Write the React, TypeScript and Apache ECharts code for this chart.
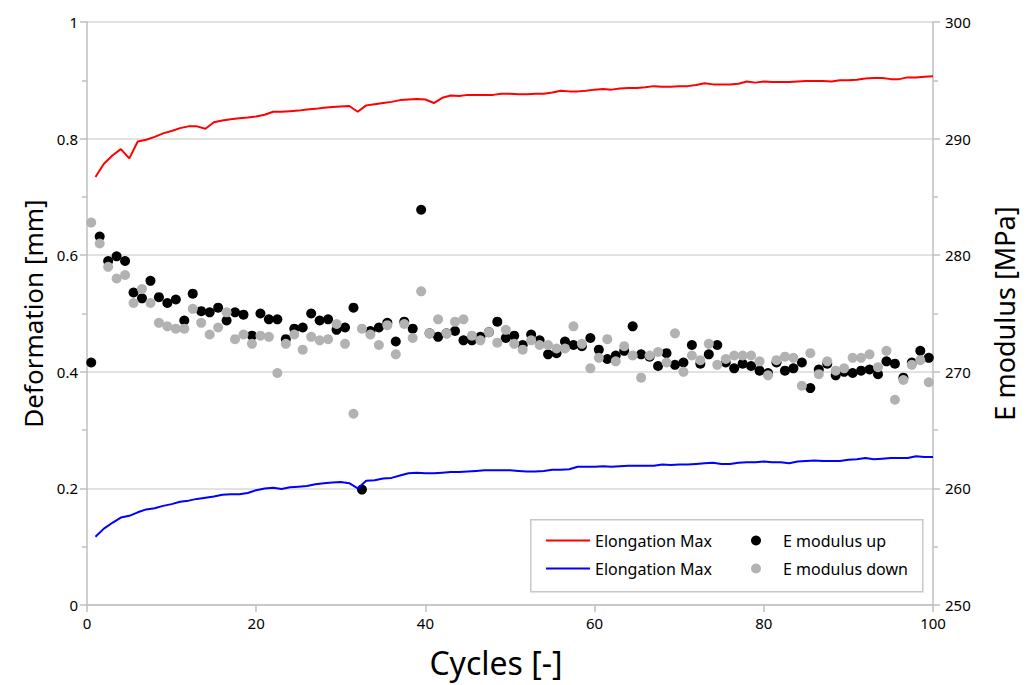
import React, { useEffect, useRef } from "react";
import * as echarts from "echarts";

const cycles: number[] = Array.from({ length: 100 }, (_, k) => k + 1);

const elongationRed: number[] = [
  0.734, 0.757, 0.771, 0.782, 0.766, 0.795, 0.798, 0.803, 0.809, 0.813,
  0.818, 0.821, 0.821, 0.817, 0.828, 0.831, 0.833, 0.835, 0.836, 0.838,
  0.841, 0.846, 0.846, 0.847, 0.848, 0.850, 0.851, 0.853, 0.854, 0.855,
  0.856, 0.846, 0.857, 0.859, 0.861, 0.863, 0.866, 0.867, 0.868, 0.867,
  0.861, 0.870, 0.874, 0.873, 0.875, 0.875, 0.875, 0.875, 0.877, 0.877,
  0.876, 0.876, 0.877, 0.877, 0.879, 0.882, 0.881, 0.881, 0.882, 0.884,
  0.885, 0.884, 0.886, 0.887, 0.887, 0.888, 0.890, 0.889, 0.889, 0.890,
  0.890, 0.892, 0.895, 0.893, 0.893, 0.893, 0.894, 0.898, 0.896, 0.898,
  0.897, 0.897, 0.897, 0.898, 0.899, 0.899, 0.899, 0.898, 0.900, 0.900,
  0.901, 0.903, 0.904, 0.904, 0.902, 0.902, 0.905, 0.905, 0.906, 0.907,
];

const elongationBlue: number[] = [
  0.117, 0.131, 0.141, 0.150, 0.153, 0.159, 0.164, 0.166, 0.170, 0.173,
  0.177, 0.179, 0.182, 0.184, 0.186, 0.189, 0.190, 0.190, 0.192, 0.197,
  0.200, 0.201, 0.199, 0.202, 0.203, 0.204, 0.207, 0.209, 0.210, 0.211,
  0.209, 0.200, 0.213, 0.214, 0.217, 0.218, 0.222, 0.226, 0.227, 0.226,
  0.226, 0.227, 0.228, 0.228, 0.229, 0.230, 0.231, 0.231, 0.231, 0.231,
  0.230, 0.229, 0.229, 0.230, 0.232, 0.232, 0.233, 0.237, 0.237, 0.237,
  0.238, 0.237, 0.238, 0.239, 0.239, 0.239, 0.239, 0.241, 0.240, 0.241,
  0.241, 0.242, 0.243, 0.244, 0.242, 0.242, 0.244, 0.245, 0.245, 0.246,
  0.245, 0.245, 0.243, 0.246, 0.247, 0.248, 0.247, 0.247, 0.247, 0.249,
  0.250, 0.252, 0.250, 0.251, 0.252, 0.252, 0.252, 0.255, 0.254, 0.254,
];

const eModulusUp: number[] = [
  270.8, 281.6, 279.5, 279.9, 279.5, 276.8, 276.3, 277.8, 276.4, 275.9,
  276.2, 274.4, 276.7, 275.2, 275.1, 275.5, 274.4, 275.1, 274.9, 273.1,
  275.0, 274.5, 274.5, 272.8, 273.7, 273.8, 275.0, 274.4, 274.5, 273.6,
  273.8, 275.5, 259.9, 273.5, 273.8, 274.2, 272.6, 274.3, 273.7, 283.9,
  273.3, 273.0, 273.3, 273.5, 272.7, 272.7, 273.0, 273.4, 274.3, 272.9,
  273.1, 272.3, 273.2, 272.7, 271.5, 271.6, 272.6, 272.3, 272.2, 272.9,
  271.9, 271.1, 271.4, 271.8, 273.9, 271.5, 271.3, 270.5, 271.6, 270.6,
  270.8, 272.3, 270.7, 271.5, 272.3, 270.8, 270.3, 270.7, 270.5, 270.1,
  269.9, 270.8, 270.1, 270.3, 270.8, 268.6, 270.2, 270.7, 269.7, 270.0,
  269.9, 270.1, 270.2, 269.8, 270.9, 270.7, 269.5, 270.8, 271.8, 271.2,
];

const eModulusDown: number[] = [
  282.8, 281.0, 279.0, 278.0, 278.3, 275.9, 277.1, 275.9, 274.2, 273.9,
  273.7, 273.7, 275.4, 274.2, 273.2, 273.8, 275.1, 272.8, 273.2, 272.4,
  273.1, 273.0, 269.9, 272.4, 273.2, 271.9, 273.0, 272.7, 272.8, 274.1,
  272.4, 266.4, 273.7, 273.2, 272.3, 274.0, 271.5, 274.1, 272.9, 276.9,
  273.3, 274.5, 273.3, 274.3, 274.5, 273.1, 272.7, 273.4, 272.5, 273.6,
  272.4, 271.9, 272.7, 272.3, 272.3, 272.0, 272.0, 273.9, 272.4, 270.3,
  271.2, 272.8, 270.9, 272.2, 271.4, 269.5, 271.4, 271.7, 270.8, 273.3,
  270.0, 271.4, 271.0, 272.4, 270.6, 271.1, 271.4, 271.4, 271.4, 270.9,
  269.7, 271.0, 271.3, 271.2, 268.8, 271.6, 269.8, 270.9, 270.1, 270.3,
  271.2, 271.2, 271.5, 270.4, 271.8, 267.6, 269.3, 270.6, 271.0, 269.1,
];

const xAxisName = "Cycles [-]";
const leftAxisName = "Deformation [mm]";
const rightAxisName = "E modulus [MPa]";
const seriesNames = ["Elongation Max", "Elongation Max ", "E modulus up", "E modulus down"];

const FONT = "'Noto Sans', sans-serif";
const AXIS_COLOR = "#bfbfbf";

export default function App() {
  const ref = useRef<HTMLDivElement>(null);

  useEffect(() => {
    if (!ref.current) return;
    const chart = echarts.init(ref.current, undefined, { renderer: "svg" });

    const lineData = (vals: number[]) => cycles.map((c, k) => [c, vals[k]]);
    const dotData = (vals: number[]) => cycles.map((c, k) => [c - 0.5, vals[k]]);

    const tickLabel = { color: "#000", fontSize: 15, fontFamily: FONT };

    chart.setOption({
      animation: false,
      backgroundColor: "#fff",
      textStyle: { fontFamily: FONT },
      grid: { left: 87, right: 103, top: 22, bottom: 80, containLabel: false },
      graphic: [
        {
          type: "rect",
          left: 530,
          top: 519,
          shape: { width: 392, height: 72 },
          style: { fill: "#fff", stroke: "#c8c8c8", lineWidth: 1.5 },
          z: 10,
        },
      ],
      legend: [
        {
          data: [seriesNames[0], seriesNames[1]],
          orient: "vertical",
          left: 541,
          top: 526,
          icon: "rect",
          itemWidth: 44,
          itemHeight: 2,
          itemGap: 9,
          formatter: (n: string) => n.trim(),
          textStyle: { fontSize: 16, color: "#000", fontFamily: FONT, lineHeight: 19, padding: [0, 0, 0, 0] },
          z: 20,
        },
        {
          data: [seriesNames[2], seriesNames[3]],
          orient: "vertical",
          left: 746,
          top: 526,
          icon: "circle",
          itemWidth: 10,
          itemHeight: 10,
          itemGap: 9,
          textStyle: { fontSize: 16, color: "#000", fontFamily: FONT, lineHeight: 19, padding: [0, 0, 0, 17] },
          itemStyle: { opacity: 1 },
          z: 20,
        },
      ],
      xAxis: {
        type: "value",
        min: 0,
        max: 100,
        interval: 20,
        name: xAxisName,
        nameLocation: "middle",
        nameGap: 41,
        nameTextStyle: { fontSize: 32, color: "#000", fontFamily: FONT, padding: [0, 28, 0, 0] },
        axisLine: { show: true, lineStyle: { color: AXIS_COLOR, width: 1.5 } },
        axisTick: { show: true, length: 7, lineStyle: { color: AXIS_COLOR, width: 1.5 } },
        axisLabel: { ...tickLabel, margin: 10 },
        splitLine: { show: false },
      },
      yAxis: [
        {
          type: "value",
          min: 0,
          max: 1,
          interval: 0.2,
          name: leftAxisName,
          nameLocation: "middle",
          nameGap: 40,
          nameRotate: 90,
          nameTextStyle: { fontSize: 26, color: "#000", fontFamily: FONT },
          axisLine: { show: true, lineStyle: { color: AXIS_COLOR, width: 1.5 } },
          axisTick: { show: true, length: 7, lineStyle: { color: AXIS_COLOR, width: 1.5 } },
          minorTick: { show: true, splitNumber: 2, length: 5, lineStyle: { color: AXIS_COLOR, width: 1.5 } },
          axisLabel: { ...tickLabel, margin: 9 },
          splitLine: { show: true, lineStyle: { color: "#d9d9d9", width: 1.5 } },
        },
        {
          type: "value",
          min: 250,
          max: 300,
          interval: 10,
          position: "right",
          name: rightAxisName,
          nameLocation: "middle",
          nameGap: 58,
          nameRotate: 90,
          nameTextStyle: { fontSize: 27, color: "#000", fontFamily: FONT },
          axisLine: { show: true, lineStyle: { color: AXIS_COLOR, width: 1.5 } },
          axisTick: { show: true, length: 7, lineStyle: { color: AXIS_COLOR, width: 1.5 } },
          minorTick: { show: true, splitNumber: 2, length: 5, lineStyle: { color: AXIS_COLOR, width: 1.5 } },
          axisLabel: { ...tickLabel, margin: 12 },
          splitLine: { show: false },
        },
      ],
      series: [
        {
          name: seriesNames[0],
          type: "line",
          yAxisIndex: 0,
          data: lineData(elongationRed),
          showSymbol: false,
          symbol: "none",
          lineStyle: { color: "#ff0000", width: 2 },
          itemStyle: { color: "#ff0000" },
        },
        {
          name: seriesNames[1],
          type: "line",
          yAxisIndex: 0,
          data: lineData(elongationBlue),
          showSymbol: false,
          symbol: "none",
          lineStyle: { color: "#0000ff", width: 2 },
          itemStyle: { color: "#0000ff" },
        },
        {
          name: seriesNames[2],
          type: "scatter",
          yAxisIndex: 1,
          data: dotData(eModulusUp),
          symbol: "circle",
          symbolSize: 10,
          itemStyle: { color: "#000000", opacity: 1 },
        },
        {
          name: seriesNames[3],
          type: "scatter",
          yAxisIndex: 1,
          data: dotData(eModulusDown),
          symbol: "circle",
          symbolSize: 10,
          itemStyle: { color: "#b2b2b2", opacity: 1 },
        },
      ],
    });

    return () => chart.dispose();
  }, []);

  return (
    <div
      ref={ref}
      style={{ position: "fixed", left: 0, top: 0, width: 1036, height: 685, background: "#fff" }}
    />
  );
}
